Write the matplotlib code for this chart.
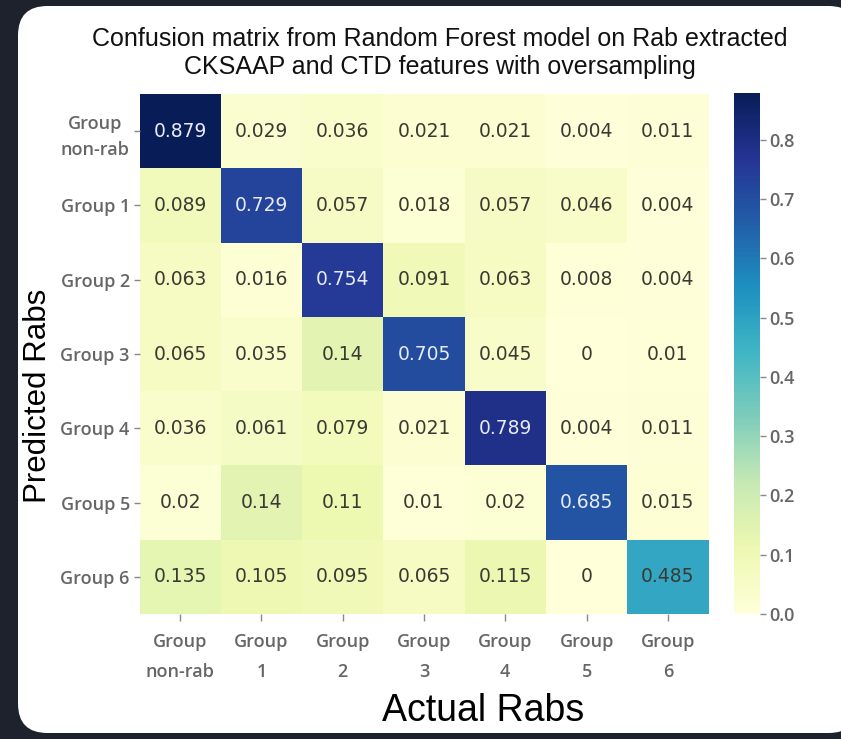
import matplotlib
matplotlib.use("Agg")
import matplotlib.pyplot as plt
from matplotlib.patches import FancyBboxPatch
import numpy as np

ROW_LABELS = ["Group\nnon-rab", "Group 1", "Group 2", "Group 3", "Group 4", "Group 5", "Group 6"]
COL_LABELS = ["Group\nnon-rab", "Group\n1", "Group\n2", "Group\n3", "Group\n4", "Group\n5", "Group\n6"]

ROW_NONRAB = [0.879, 0.029, 0.036, 0.021, 0.021, 0.004, 0.011]
ROW_G1 = [0.089, 0.729, 0.057, 0.018, 0.057, 0.046, 0.004]
ROW_G2 = [0.063, 0.016, 0.754, 0.091, 0.063, 0.008, 0.004]
ROW_G3 = [0.065, 0.035, 0.14, 0.705, 0.045, 0, 0.01]
ROW_G4 = [0.036, 0.061, 0.079, 0.021, 0.789, 0.004, 0.011]
ROW_G5 = [0.02, 0.14, 0.11, 0.01, 0.02, 0.685, 0.015]
ROW_G6 = [0.135, 0.105, 0.095, 0.065, 0.115, 0, 0.485]

matrix = np.array([ROW_NONRAB, ROW_G1, ROW_G2, ROW_G3, ROW_G4, ROW_G5, ROW_G6])

W, H = 841, 739
fig = plt.figure(figsize=(W / 100, H / 100), dpi=100, facecolor="#1d222d")

# white rounded card behind the chart
card = FancyBboxPatch(
    (18 / W, 6 / H), 840 / W, 727 / H,
    boxstyle="round,pad=0,rounding_size=0.035",
    transform=fig.transFigure, facecolor="white", edgecolor="none",
    mutation_aspect=W / H, zorder=-10,
)
fig.patches.append(card)

ax = fig.add_axes([139.5 / W, 1 - 614 / H, 569 / W, 520 / H], zorder=2)
cax = fig.add_axes([734 / W, 1 - 614 / H, 26 / W, 521 / H], zorder=2)
ax.patch.set_alpha(0)

cmap = plt.get_cmap("YlGnBu")
vmax = matrix.max()
mesh = ax.pcolormesh(matrix, cmap=cmap, vmin=0, vmax=vmax)
ax.set_xlim(0, matrix.shape[1])
ax.set_ylim(matrix.shape[0], 0)
for spine in ax.spines.values():
    spine.set_visible(False)

for i in range(matrix.shape[0]):
    for j in range(matrix.shape[1]):
        value = matrix[i, j]
        r, g, b, _ = cmap(value / vmax)
        lum = 0.2126 * r + 0.7152 * g + 0.0722 * b
        ax.text(j + 0.5, i + 0.5, f"{value:g}", ha="center", va="center",
                fontsize=13.5, family="DejaVu Sans",
                color="#e6ebf5" if lum < 0.408 else "#3a3a33")

tick_color = "#666666"
tick_font = {"family": "Open Sans", "size": 13, "color": tick_color, "weight": "semibold"}
ax.set_xticks(np.arange(matrix.shape[1]) + 0.5)
ax.set_xticklabels(COL_LABELS, linespacing=1.85, **tick_font)
ax.set_yticks(np.arange(matrix.shape[0]) + 0.5)
ax.set_yticklabels(ROW_LABELS, linespacing=1.55, multialignment="center", **tick_font)
ax.tick_params(axis="x", length=5, width=1.0, color="#888888", pad=9)
ax.tick_params(axis="y", length=4, width=1.0, color="#888888", pad=3)

cb = fig.colorbar(mesh, cax=cax)
cb.outline.set_visible(False)
cb.set_ticks(np.arange(0, 0.81, 0.1))
cb.ax.tick_params(length=4, width=1.0, color="#888888", pad=3)
for label in cb.ax.get_yticklabels():
    label.set_fontfamily("Open Sans")
    label.set_fontsize(13)
    label.set_fontweight("semibold")
    label.set_color(tick_color)

fig.text(440 / W, 1 - 53 / H,
         "Confusion matrix from Random Forest model on Rab extracted\nCKSAAP and CTD features with oversampling",
         ha="center", va="center", fontsize=18, family="Liberation Sans", color="#111111",
         linespacing=1.2)
fig.text(483 / W, 1 - 711 / H, "Actual Rabs", ha="center", va="center",
         fontsize=27, family="Liberation Sans", color="black")
fig.text(38 / W, 1 - 396 / H, "Predicted Rabs", ha="center", va="center", rotation=90,
         fontsize=22.5, family="Liberation Sans", color="black")

fig.savefig("out.png", dpi=100, facecolor=fig.get_facecolor())
